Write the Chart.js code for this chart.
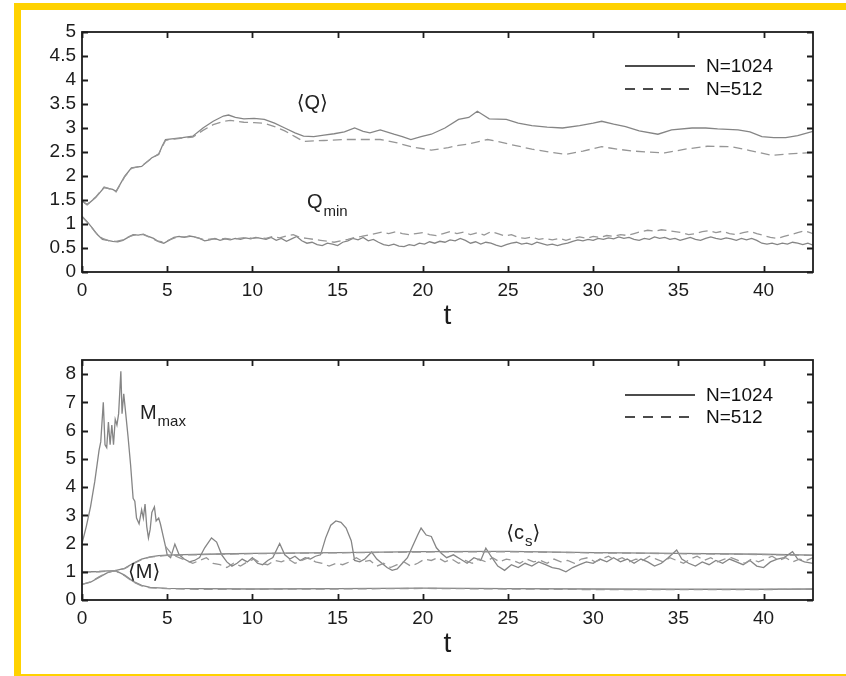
<!DOCTYPE html>
<html lang="fr">
<head>
<meta charset="utf-8">
<title>Q et M en fonction de t</title>
<script src="https://cdn.jsdelivr.net/npm/chart.js@4.4.1/dist/chart.umd.min.js"></script>
<style>
    html, body { margin: 0; padding: 0; background: #fff; }
    #page { position: relative; width: 846px; height: 676px; overflow: hidden; background: #fff; }
    #cadre {
        position: absolute; left: 14px; top: 3px; width: 832px; height: 673px; box-sizing: border-box;
        border-top: 7px solid #ffd200; border-left: 7px solid #ffd200; border-bottom: 2px solid #ffd200;
    }
    canvas { position: absolute; left: 0; }
    #graphHaut { top: 0; }
    #graphBas { top: 338px; }
</style>
</head>
<body>
<div id="page">
    <div id="cadre"></div>
    <canvas id="graphHaut" width="846" height="338"></canvas>
    <canvas id="graphBas" width="846" height="338"></canvas>
</div>
<script>
/** Deux panneaux : <Q>, Qmin (haut) et Mmax, <M>, <cs> (bas), pour N=1024 et N=512 */

// ---- données (t, valeur) ----

const qMean1024 = [ [0,1.48],[0.3,1.40],[0.8,1.55],[1.3,1.76],[1.8,1.72],[2.0,1.68],[2.5,1.99],[2.9,2.17],[3.5,2.20],[4.1,2.38],
    [4.5,2.45],[4.7,2.62],[4.9,2.76],[5.4,2.78],[5.9,2.80],[6.5,2.83],[7.1,3.00],[7.7,3.14],[8.3,3.25],[8.6,3.27],
    [9.0,3.22],[9.5,3.19],[10.1,3.20],[10.7,3.18],[11.3,3.10],[11.9,3.00],[12.5,2.90],[13.0,2.83],[13.6,2.82],[14.2,2.85],
    [14.8,2.88],[15.4,2.92],[16.0,3.00],[16.5,2.93],[16.9,2.90],[17.5,2.96],[18.3,2.87],[18.8,2.82],[19.3,2.76],[19.9,2.82],
    [20.5,2.87],[21.3,3.00],[22.1,3.18],[22.7,3.22],[23.2,3.35],[23.5,3.28],[23.9,3.19],[24.9,3.18],[25.6,3.10],[26.4,3.05],
    [27.3,3.02],[28.2,3.00],[29.2,3.05],[30.0,3.10],[30.5,3.14],[31.2,3.08],[31.9,3.03],[32.7,2.94],[33.8,2.87],[34.6,2.96],
    [35.8,3.00],[36.6,3.00],[37.3,2.98],[38.5,2.96],[39.2,2.92],[39.9,2.82],[40.6,2.80],[41.3,2.80],[42.0,2.84],[42.9,2.93] ]

const qMean512 = [ [0,1.48],[0.3,1.41],[0.8,1.56],[1.3,1.77],[1.8,1.71],[2.0,1.67],[2.5,1.98],[2.9,2.16],[3.5,2.21],[4.1,2.37],
    [4.5,2.46],[4.7,2.60],[4.9,2.74],[5.4,2.77],[5.9,2.79],[6.5,2.81],[7.1,2.95],[7.7,3.07],[8.3,3.14],[8.7,3.16],
    [9.5,3.12],[10.1,3.11],[10.7,3.10],[11.3,3.03],[11.9,2.94],[12.5,2.82],[13.0,2.72],[13.6,2.73],[14.2,2.74],[15.4,2.76],
    [16.5,2.76],[17.5,2.76],[18.5,2.69],[19.3,2.61],[20.5,2.54],[21.5,2.59],[22.1,2.64],[22.6,2.66],[23.8,2.76],[24.4,2.72],
    [25.1,2.66],[26.4,2.56],[27.4,2.50],[28.4,2.45],[29.4,2.52],[30.5,2.61],[31.4,2.56],[32.3,2.52],[33.2,2.50],[34.2,2.48],
    [35.4,2.56],[36.7,2.62],[38.1,2.61],[39.2,2.53],[40.5,2.43],[41.5,2.46],[42.9,2.49] ]

const qMin1024 = [ [0,1.16],[0.3,1.05],[0.6,0.92],[0.9,0.78],[1.2,0.68],[1.5,0.66],[1.8,0.64],[2.1,0.63],[2.4,0.66],[2.7,0.72],
    [3.0,0.78],[3.3,0.77],[3.6,0.79],[3.9,0.74],[4.2,0.70],[4.5,0.63],[4.8,0.60],[5.1,0.66],[5.4,0.72],[5.7,0.74],
    [6.0,0.72],[6.3,0.75],[6.6,0.73],[6.9,0.70],[7.2,0.65],[7.5,0.67],[7.8,0.70],[8.1,0.66],[8.4,0.69],[8.7,0.67],
    [9.0,0.70],[9.3,0.68],[9.6,0.71],[9.9,0.69],[10.2,0.72],[10.5,0.70],[10.8,0.68],[11.1,0.72],[11.4,0.66],[11.7,0.70],
    [12.0,0.64],[12.3,0.69],[12.6,0.74],[12.9,0.65],[13.2,0.60],[13.5,0.62],[13.8,0.57],[14.1,0.55],[14.4,0.60],[14.7,0.58],
    [15.0,0.55],[15.3,0.62],[15.6,0.65],[15.9,0.70],[16.2,0.67],[16.5,0.72],[16.8,0.65],[17.1,0.68],[17.4,0.62],[17.7,0.57],
    [18.0,0.55],[18.3,0.58],[18.6,0.54],[18.9,0.53],[19.2,0.57],[19.5,0.55],[19.8,0.60],[20.1,0.58],[20.4,0.63],[20.7,0.60],
    [21.0,0.64],[21.3,0.62],[21.6,0.67],[21.9,0.65],[22.2,0.70],[22.5,0.66],[22.8,0.60],[23.1,0.63],[23.4,0.58],[23.7,0.62],
    [24.0,0.60],[24.3,0.56],[24.6,0.53],[24.9,0.57],[25.2,0.60],[25.5,0.62],[25.8,0.58],[26.1,0.60],[26.4,0.57],[26.7,0.62],
    [27.0,0.59],[27.3,0.56],[27.6,0.58],[27.9,0.55],[28.2,0.58],[28.5,0.60],[28.8,0.64],[29.1,0.67],[29.4,0.65],[29.7,0.68],
    [30.0,0.66],[30.3,0.70],[30.6,0.68],[30.9,0.71],[31.2,0.69],[31.5,0.73],[31.8,0.70],[32.1,0.72],[32.4,0.68],[32.7,0.66],
    [33.0,0.70],[33.3,0.68],[33.6,0.73],[33.9,0.70],[34.2,0.72],[34.5,0.68],[34.8,0.70],[35.1,0.66],[35.4,0.69],[35.7,0.72],
    [36.0,0.68],[36.3,0.66],[36.6,0.70],[36.9,0.73],[37.2,0.70],[37.5,0.68],[37.8,0.71],[38.1,0.69],[38.4,0.66],[38.7,0.70],
    [39.0,0.67],[39.3,0.70],[39.6,0.66],[39.9,0.60],[40.2,0.58],[40.5,0.60],[40.8,0.57],[41.1,0.60],[41.4,0.58],[41.7,0.62],
    [42.0,0.60],[42.3,0.57],[42.6,0.60],[42.9,0.56] ]

const qMin512 = [ [0,1.15],[0.4,1.00],[0.8,0.82],[1.2,0.70],[1.6,0.65],[2.0,0.64],[2.4,0.67],[2.8,0.74],[3.2,0.78],[3.6,0.78],
    [4.0,0.72],[4.4,0.65],[4.8,0.62],[5.2,0.68],[5.6,0.73],[6.0,0.73],[6.4,0.74],[6.8,0.71],[7.2,0.67],[7.6,0.69],
    [8.0,0.68],[8.4,0.70],[8.8,0.68],[9.2,0.70],[9.6,0.72],[10.0,0.70],[10.4,0.72],[10.8,0.70],[11.2,0.74],[11.6,0.71],
    [12.0,0.75],[12.4,0.78],[12.8,0.72],[13.2,0.70],[13.6,0.68],[14.0,0.66],[14.4,0.64],[14.8,0.62],[15.2,0.65],[15.6,0.68],
    [16.0,0.72],[16.4,0.74],[16.8,0.77],[17.2,0.80],[17.6,0.83],[18.0,0.80],[18.4,0.84],[18.8,0.80],[19.2,0.78],[19.6,0.80],
    [20.0,0.82],[20.4,0.78],[20.8,0.76],[21.2,0.80],[21.6,0.84],[22.0,0.80],[22.4,0.83],[22.8,0.78],[23.2,0.82],[23.6,0.77],
    [24.0,0.84],[24.4,0.80],[24.8,0.75],[25.2,0.78],[25.6,0.72],[26.0,0.70],[26.4,0.73],[26.8,0.68],[27.2,0.70],[27.6,0.67],
    [28.0,0.70],[28.4,0.66],[28.8,0.70],[29.2,0.73],[29.6,0.70],[30.0,0.74],[30.4,0.72],[30.8,0.76],[31.2,0.74],[31.6,0.78],
    [32.0,0.76],[32.4,0.80],[32.8,0.84],[33.2,0.87],[33.6,0.85],[34.0,0.88],[34.4,0.86],[34.8,0.84],[35.2,0.82],[35.6,0.78],
    [36.0,0.80],[36.4,0.84],[36.8,0.86],[37.2,0.82],[37.6,0.85],[38.0,0.80],[38.4,0.78],[38.8,0.82],[39.2,0.85],[39.6,0.80],
    [40.0,0.76],[40.4,0.72],[40.8,0.70],[41.2,0.74],[41.6,0.78],[42.0,0.82],[42.4,0.86],[42.9,0.80] ]

const mMax1024 = [ [0,2.0],[0.25,2.6],[0.5,3.3],[0.75,4.2],[1.0,5.3],[1.1,5.6],[1.25,7.0],[1.35,5.5],[1.45,5.4],[1.55,6.3],
    [1.65,5.5],[1.75,6.2],[1.85,5.5],[1.95,6.4],[2.05,6.2],[2.15,6.6],[2.28,8.1],[2.35,6.6],[2.45,7.3],[2.55,6.7],
    [2.7,5.8],[2.85,4.8],[3.0,3.6],[3.1,3.5],[3.2,2.9],[3.35,2.7],[3.5,3.2],[3.6,2.9],[3.7,3.4],[3.8,2.6],
    [3.9,2.2],[4.0,2.5],[4.1,3.1],[4.25,3.3],[4.35,2.8],[4.5,2.9],[4.6,2.7],[4.75,2.3],[4.9,1.9],[5.0,1.6],
    [5.2,1.5],[5.45,1.98],[5.7,1.6],[6.0,1.45],[6.3,1.35],[6.6,1.4],[6.9,1.5],[7.2,1.85],[7.6,2.2],[7.9,2.05],
    [8.2,1.6],[8.5,1.35],[8.8,1.2],[9.1,1.3],[9.4,1.45],[9.7,1.35],[10.0,1.5],[10.3,1.3],[10.6,1.25],[10.9,1.4],
    [11.2,1.5],[11.6,2.0],[11.9,1.6],[12.2,1.45],[12.5,1.55],[12.8,1.4],[13.1,1.5],[13.4,1.45],[13.7,1.55],[14.0,1.6],
    [14.3,2.2],[14.6,2.65],[14.9,2.8],[15.2,2.75],[15.5,2.55],[15.8,2.1],[16.0,1.4],[16.3,1.35],[16.6,1.45],[17.0,1.7],
    [17.3,1.45],[17.6,1.3],[17.9,1.15],[18.2,1.05],[18.5,1.1],[18.8,1.3],[19.1,1.5],[19.4,1.9],[19.7,2.3],[19.9,2.55],
    [20.2,2.3],[20.5,2.25],[20.8,1.85],[21.1,1.65],[21.4,1.5],[21.8,1.6],[22.2,1.45],[22.6,1.3],[23.0,1.5],[23.4,1.4],
    [23.7,1.84],[24.0,1.55],[24.4,1.2],[24.8,1.05],[25.2,1.25],[25.6,1.15],[26.0,1.3],[26.4,1.2],[26.8,1.35],[27.2,1.25],
    [27.6,1.15],[28.0,1.1],[28.4,1.0],[28.8,1.15],[29.2,1.25],[29.6,1.35],[30.0,1.3],[30.4,1.45],[30.8,1.35],[31.2,1.5],
    [31.6,1.35],[32.0,1.45],[32.4,1.3],[32.8,1.45],[33.2,1.35],[33.6,1.2],[34.0,1.3],[34.4,1.5],[34.9,1.77],[35.2,1.45],
    [35.6,1.3],[36.0,1.2],[36.4,1.35],[36.8,1.25],[37.2,1.4],[37.6,1.3],[38.0,1.45],[38.4,1.35],[38.8,1.25],[39.2,1.4],
    [39.6,1.2],[40.0,1.15],[40.4,1.35],[40.8,1.45],[41.2,1.5],[41.7,1.71],[42.0,1.45],[42.4,1.35],[42.9,1.3] ]

const mMax512 = [ [4.9,1.9],[5.3,1.6],[5.7,1.5],[6.1,1.4],[6.5,1.3],[6.9,1.4],[7.3,1.5],[7.7,1.3],[8.1,1.25],[8.5,1.15],
    [8.9,1.3],[9.3,1.2],[9.7,1.35],[10.1,1.45],[10.5,1.3],[10.9,1.25],[11.3,1.4],[11.7,1.35],[12.1,1.45],[12.5,1.3],
    [12.9,1.4],[13.3,1.5],[13.7,1.35],[14.1,1.3],[14.5,1.2],[14.9,1.3],[15.3,1.25],[15.7,1.35],[16.1,1.5],[16.5,1.35],
    [16.9,1.4],[17.3,1.2],[17.7,1.3],[18.1,1.15],[18.5,1.25],[18.9,1.35],[19.3,1.2],[19.7,1.3],[20.1,1.45],[20.5,1.4],
    [20.9,1.5],[21.3,1.35],[21.7,1.45],[22.1,1.3],[22.5,1.4],[22.9,1.3],[23.3,1.45],[23.7,1.35],[24.1,1.5],[24.5,1.35],
    [24.9,1.45],[25.3,1.4],[25.7,1.3],[26.1,1.45],[26.5,1.35],[26.9,1.4],[27.3,1.3],[27.7,1.45],[28.1,1.35],[28.5,1.4],
    [28.9,1.3],[29.3,1.45],[29.7,1.5],[30.1,1.35],[30.5,1.45],[30.9,1.55],[31.3,1.4],[31.7,1.5],[32.1,1.35],[32.5,1.45],
    [32.9,1.4],[33.3,1.55],[33.7,1.45],[34.1,1.35],[34.5,1.5],[34.9,1.4],[35.3,1.3],[35.7,1.45],[36.1,1.55],[36.5,1.4],
    [36.9,1.5],[37.3,1.35],[37.7,1.45],[38.1,1.5],[38.5,1.4],[38.9,1.3],[39.3,1.45],[39.7,1.35],[40.1,1.45],[40.5,1.55],
    [40.9,1.4],[41.3,1.5],[41.7,1.35],[42.1,1.45],[42.5,1.4],[42.9,1.5] ]

const cs1024 = [ [0,0.55],[0.5,0.63],[1.0,0.8],[1.5,0.97],[2.0,1.05],[2.5,1.12],[3.0,1.3],[3.5,1.45],[4.0,1.53],[4.5,1.57],
    [5.0,1.59],[6,1.61],[8,1.63],[10,1.65],[15,1.68],[20,1.71],[25,1.72],[30,1.68],[35,1.65],[40,1.62],[42.9,1.59] ]

const cs512 = [ [0,0.55],[0.5,0.64],[1.0,0.82],[1.5,0.98],[2.0,1.05],[2.5,1.11],[3.0,1.28],[3.5,1.43],[4.0,1.52],[5.0,1.58],
    [8,1.62],[10,1.64],[15,1.67],[20,1.70],[25,1.71],[30,1.67],[35,1.64],[40,1.61],[42.9,1.58] ]

const mMean1024 = [ [0,1.0],[0.5,1.0],[1.0,1.01],[1.5,1.03],[2.0,1.03],[2.5,0.88],[3.0,0.66],[3.5,0.52],[4.0,0.45],[5.0,0.41],
    [7,0.40],[10,0.39],[15,0.40],[20,0.42],[25,0.40],[30,0.39],[35,0.38],[40,0.38],[42.9,0.39] ]

const mMean512 = [ [0,1.0],[0.5,1.0],[1.0,1.0],[1.5,1.02],[2.0,1.02],[2.5,0.86],[3.0,0.64],[3.5,0.50],[4.0,0.43],[5.0,0.40],
    [7,0.38],[10,0.38],[15,0.39],[20,0.41],[25,0.39],[30,0.37],[35,0.37],[40,0.37],[42.9,0.38] ]

// graduations
const tTicks = [ 0, 5, 10, 15, 20, 25, 30, 35, 40 ]
const qTicks = [ 0, 0.5, 1, 1.5, 2, 2.5, 3, 3.5, 4, 4.5, 5 ]
const mTicks = [ 0, 1, 2, 3, 4, 5, 6, 7, 8 ]
const legendLabels = [ 'N=1024', 'N=512' ]

// ---- style ----

const FONTE = '"Liberation Sans", Arial, "DejaVu Sans", sans-serif'
const COULEUR_AXE = '#1c1c1c'
const COULEUR_TRAIT = '#858585'
const COULEUR_TIRET = '#969696'
const TIRETS = [ 9, 5 ]
const LONG_GRAD = 6
const T_MAX = 42.9


/** Transforme une liste [t, v] en points Chart.js */
function toPoints( list ) {
    return list.map( ( [ x, y ] ) => ( { x: x, y: y } ) )
}

/** Crée une courbe pleine (N=1024) ou en tirets (N=512) */
function courbe( list, dashed ) {
    return {
        data: toPoints( list ),
        borderColor: dashed ? COULEUR_TIRET : COULEUR_TRAIT,
        borderWidth: 1.3,
        borderDash: dashed ? TIRETS : [],
        pointRadius: 0,
        tension: 0,
        fill: false
    }
}

/** Cadre, graduations intérieures sur les quatre côtés et titre "t" */
const cadreAxes = {
    id: 'cadreAxes',
    afterDatasetsDraw( chart ) {
        const { ctx, chartArea: a, scales } = chart
        ctx.save()
        ctx.strokeStyle = COULEUR_AXE
        ctx.lineWidth = 1.8
        ctx.beginPath()
        for ( const tk of scales.x.ticks ) {
            const px = Math.round( scales.x.getPixelForValue( tk.value ) ) + 0.5
            ctx.moveTo( px, a.bottom ); ctx.lineTo( px, a.bottom - LONG_GRAD )
            ctx.moveTo( px, a.top ); ctx.lineTo( px, a.top + LONG_GRAD )
        }
        for ( const tk of scales.y.ticks ) {
            const py = Math.round( scales.y.getPixelForValue( tk.value ) ) + 0.5
            ctx.moveTo( a.left, py ); ctx.lineTo( a.left + LONG_GRAD, py )
            ctx.moveTo( a.right, py ); ctx.lineTo( a.right - LONG_GRAD, py )
        }
        ctx.stroke()
        ctx.strokeRect( a.left, a.top, a.right - a.left, a.bottom - a.top )

        // titre de l'axe des abscisses
        ctx.fillStyle = COULEUR_AXE
        ctx.font = '28px ' + FONTE
        ctx.textAlign = 'center'
        ctx.textBaseline = 'middle'
        ctx.fillText( 't', ( a.left + a.right ) / 2, a.bottom + 44 )
        ctx.restore()
    }
}

/** Légende intérieure en haut à droite */
const legendeInterne = {
    id: 'legendeInterne',
    afterDraw( chart, args, opts ) {
        const { ctx, chartArea: a } = chart
        ctx.save()
        ctx.strokeStyle = '#111'
        ctx.fillStyle = '#111'
        ctx.lineWidth = 1.5
        ctx.font = '19px ' + FONTE
        ctx.textBaseline = 'middle'
        legendLabels.forEach( ( label, i ) => {
            const y = a.top + opts.rows[ i ]
            ctx.setLineDash( i == 0 ? [] : [ 10, 8 ] )
            ctx.beginPath()
            ctx.moveTo( a.right - 188, y ); ctx.lineTo( a.right - 118, y )
            ctx.stroke()
            ctx.fillText( label, a.right - 107, y + 1 )
        } )
        ctx.restore()
    }
}

/** Noms des courbes, avec indices */
const etiquettes = {
    id: 'etiquettes',
    afterDraw( chart, args, opts ) {
        const { ctx, scales } = chart
        ctx.save()
        ctx.fillStyle = '#222'
        ctx.textBaseline = 'middle'
        for ( const item of opts.items ) {
            let x = scales.x.getPixelForValue( item.t )
            const y = scales.y.getPixelForValue( item.v )
            for ( const part of item.parts ) {
                ctx.font = ( part.sub ? '15px ' : '20px ' ) + FONTE
                ctx.fillText( part.s, x, part.sub ? y + 9 : y )
                x += ctx.measureText( part.s ).width + ( part.sub ? 0 : 1 )
            }
        }
        ctx.restore()
    }
}

/** Options communes aux deux panneaux */
function optionsPanneau( yMax, yTicks, padTop, hauteurX, rows, items ) {
    const police = { family: FONTE, size: 19 }
    return {
        responsive: false,
        animation: false,
        layout: { padding: { left: 0, right: 33, top: padTop, bottom: 0 } },
        scales: {
            x: {
                type: 'linear', min: 0, max: T_MAX,
                grid: { display: false, drawTicks: false },
                border: { display: false },
                ticks: { font: police, color: COULEUR_AXE, padding: 7, maxRotation: 0, autoSkip: false,
                         callback: ( v ) => String( v ) },
                afterBuildTicks: ( s ) => { s.ticks = tTicks.map( v => ( { value: v } ) ) },
                afterFit: ( s ) => { s.height = hauteurX }
            },
            y: {
                type: 'linear', min: 0, max: yMax,
                grid: { display: false, drawTicks: false },
                border: { display: false },
                ticks: { font: police, color: COULEUR_AXE, padding: 6, autoSkip: false,
                         callback: ( v ) => String( v ) },
                afterBuildTicks: ( s ) => { s.ticks = yTicks.map( v => ( { value: v } ) ) },
                afterFit: ( s ) => { s.width = 82 }
            }
        },
        plugins: {
            legend: { display: false },
            tooltip: { enabled: false },
            legendeInterne: { rows: rows },
            etiquettes: { items: items }
        }
    }
}

// panneau du haut : <Q> et Qmin
new Chart( document.getElementById( 'graphHaut' ), {
    type: 'line',
    data: {
        datasets: [
            courbe( qMean512, true ), courbe( qMin512, true ),
            courbe( qMean1024, false ), courbe( qMin1024, false )
        ]
    },
    options: optionsPanneau( 5, qTicks, 32, 66, [ 34, 57 ], [
        { t: 12.6, v: 3.52, parts: [ { s: '⟨Q⟩' } ] },
        { t: 13.2, v: 1.44, parts: [ { s: 'Q' }, { s: 'min', sub: true } ] }
    ] ),
    plugins: [ cadreAxes, legendeInterne, etiquettes ]
} )

// panneau du bas : Mmax, <M> et <cs>
new Chart( document.getElementById( 'graphBas' ), {
    type: 'line',
    data: {
        datasets: [
            courbe( mMax512, true ), courbe( cs512, true ), courbe( mMean512, true ),
            courbe( mMax1024, false ), courbe( cs1024, false ), courbe( mMean1024, false )
        ]
    },
    options: optionsPanneau( 8.5, mTicks, 22, 76, [ 35, 57 ], [
        { t: 3.4, v: 6.62, parts: [ { s: 'M' }, { s: 'max', sub: true } ] },
        { t: 2.7, v: 0.96, parts: [ { s: '⟨M⟩' } ] },
        { t: 24.9, v: 2.37, parts: [ { s: '⟨c' }, { s: 's', sub: true }, { s: '⟩' } ] }
    ] ),
    plugins: [ cadreAxes, legendeInterne, etiquettes ]
} )
</script>
</body>
</html>
